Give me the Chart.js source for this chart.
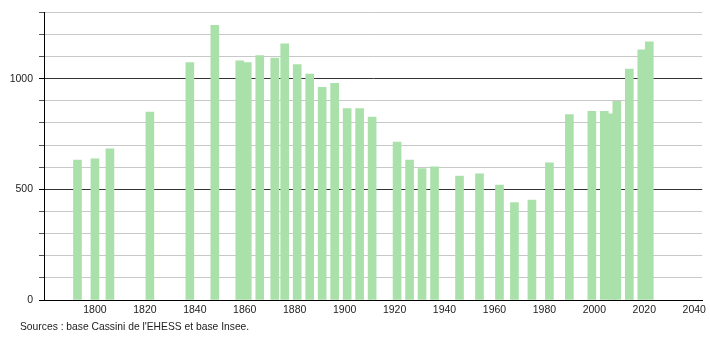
<!DOCTYPE html>
<html>
<head>
<meta charset="utf-8">
<script src="https://cdn.jsdelivr.net/npm/chart.js@4"></script>
<style>
  body { margin: 0; background: #fff; }
  #wrap { position: relative; width: 710px; height: 340px; }
  #source {
    position: absolute; left: 20px; top: 321px;
    font: 10.3px "Liberation Sans", Arial, sans-serif; color: #222;
  }
</style>
</head>
<body>
<div id="wrap">
  <canvas id="popChart" width="710" height="340"></canvas>
  <div id="source">Sources : base Cassini de l'EHESS et base Insee.</div>
</div>
<script>
// Census years and population
const years = [1793, 1800, 1806, 1822, 1838, 1848, 1858, 1861, 1866, 1872, 1876, 1881,
  1886, 1891, 1896, 1901, 1906, 1911, 1921, 1926, 1931, 1936, 1946, 1954,
  1962, 1968, 1975, 1982, 1990, 1999, 2004, 2007, 2009, 2014, 2019, 2022];
const population = [632, 638, 683, 849, 1073, 1241, 1081, 1073, 1104, 1093, 1158, 1064,
  1021, 961, 979, 865, 865, 826, 714, 632, 594, 602, 560, 570,
  519, 440, 452, 620, 838, 853, 853, 841, 898, 1043, 1130, 1167];
const xTicks = [1800, 1820, 1840, 1860, 1880, 1900, 1920, 1940, 1960, 1980, 2000, 2020, 2040];
const yLabels = [0, 500, 1000];

const points = years.map((y, i) => ({ x: y, y: population[i] }));
const font = { family: '"Liberation Sans", Arial, sans-serif', size: 10.5 };

new Chart(document.getElementById('popChart'), {
  type: 'bar',
  data: {
    datasets: [{
      data: points,
      backgroundColor: 'rgb(170, 224, 170)',
      borderWidth: 0,
      barThickness: 8
    }]
  },
  options: {
    responsive: false,
    animation: false,
    layout: { padding: { top: 0, right: 7, bottom: 22, left: 0 } },
    plugins: { legend: { display: false }, tooltip: { enabled: false } },
    scales: {
      x: {
        type: 'linear',
        offset: false,
        min: 1779.6,
        max: 2043.2,
        afterBuildTicks: scale => { scale.ticks = xTicks.map(v => ({ value: v })); },
        afterFit: scale => { scale.height = 18; },
        grid: { display: false, drawTicks: false, offset: false },
        border: { display: true, color: '#000', width: 1 },
        ticks: {
          font: font, color: '#222', padding: 4, maxRotation: 0, autoSkip: false,
          callback: v => String(v)
        }
      },
      y: {
        min: 0,
        max: 1300,
        afterFit: scale => { scale.width = 44; },
        grid: {
          color: c => (c.tick && c.tick.value % 500 === 0) ? '#333' : '#c8c8c8',
          tickColor: c => (c.tick && c.tick.value % 500 === 0) ? '#000' : '#555',
          tickLength: 5
        },
        border: { display: true, color: '#000', width: 1 },
        ticks: {
          stepSize: 100,
          font: font,
          color: '#222',
          padding: 6,
          autoSkip: false,
          callback: v => yLabels.includes(v) ? String(v) : ''
        }
      }
    }
  }
});
</script>
</body>
</html>
